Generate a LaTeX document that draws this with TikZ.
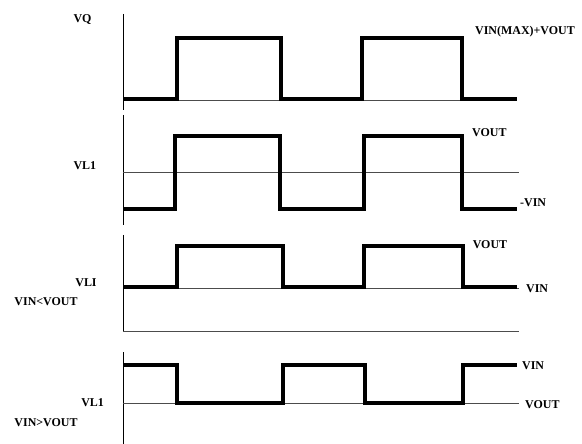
\documentclass[tikz,border=0pt]{standalone}
\usepackage{fontspec}
\setmainfont{Liberation Serif}
\begin{document}
\begin{tikzpicture}[x=1bp, y=-1bp,
    wave/.style={line width=4bp, line join=miter},
    level/.style={line width=0.8bp, black!70},
    axis/.style={line width=0.9bp},
    lab/.style={font=\bfseries\fontsize{12}{14}\selectfont, inner sep=0pt}]
  \useasboundingbox (0,0) rectangle (582,444);

  % VQ
  \draw [axis] (123,14) -- (123,110);
  \draw [level] (123,100) -- (517,100);
  \draw [wave] (123,99.5) -- (177,99.5) -- (177,38) -- (281,38) --
    (281,99.5) -- (362,99.5) -- (362,38) -- (462,38) -- (462,99.5) --
    (517,99.5);
  \node [lab] (vq) at (82.5,20) {VQ};
  \node [lab, anchor=west] (vmax) at (475,32) {VIN(MAX)+VOUT};

  % VL1
  \draw [axis] (123,115) -- (123,225);
  \draw [level] (123,172.3) -- (519,172.3);
  \draw [wave] (123,209) -- (175,209) -- (175,136) -- (280,136) --
    (280,209) -- (364,209) -- (364,136) -- (462,136) -- (462,209) --
    (517,209);
  \node [lab] (vlA) at (84.8,165.7) {VL1};
  \node [lab, anchor=west] (voutA) at (472,133) {VOUT};
  \node [lab, anchor=west] (vinA) at (520,203) {-VIN};

  % VIN<VOUT
  \draw [axis] (123,235) -- (123,332);
  \draw [level] (123,331.7) -- (519,331.7);
  \draw [level] (123,288.3) -- (519,288.3);
  \draw [wave] (123,286.7) -- (177,286.7) -- (177,246) -- (283,246) --
    (283,286.7) -- (364,286.7) -- (364,246) -- (463,246) --
    (463,286.7) -- (517,286.7);
  \node [lab] (vlB) at (86,283) {VLI};
  \node [lab] (condB) at (46,302) {VIN<VOUT};
  \node [lab, anchor=west] (voutB) at (472.6,245) {VOUT};
  \node [lab, anchor=west] (vinB) at (526,288.3) {VIN};

  % VIN>VOUT
  \draw [axis] (123,352) -- (123,444);
  \draw [level] (123,403.5) -- (519,403.5);
  \draw [wave] (123,364.5) -- (177,364.5) -- (177,403.3) -- (283,403.3)
    -- (283,364.5) -- (365,364.5) -- (365,403.3) -- (463,403.3) --
    (463,364.5) -- (517,364.5);
  \node [lab] (vlC) at (92.6,403) {VL1};
  \node [lab] (condC) at (46,422.7) {VIN>VOUT};
  \node [lab, anchor=west] (vinC) at (522,366) {VIN};
  \node [lab, anchor=west] (voutC) at (525,405) {VOUT};
\end{tikzpicture}
\end{document}
